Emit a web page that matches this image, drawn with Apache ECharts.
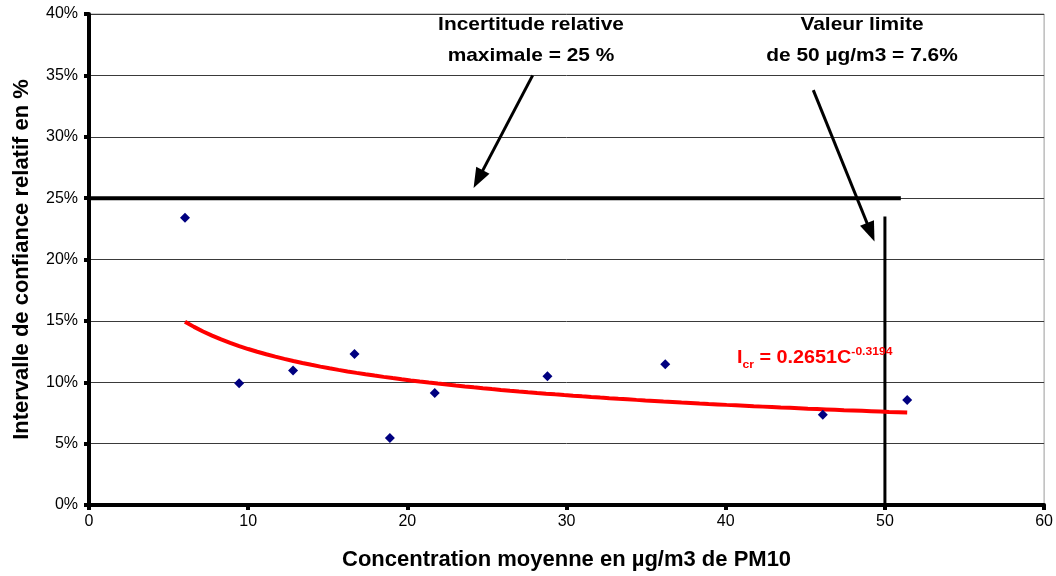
<!DOCTYPE html>
<html>
<head>
<meta charset="utf-8">
<script src="https://cdn.jsdelivr.net/npm/echarts@6/dist/echarts.min.js"></script>
<style>
  html, body { margin: 0; padding: 0; background: #fff; }
  #chart { width: 1056px; height: 576px; }
</style>
</head>
<body>
<div id="chart"></div>
<script>
// Mean PM10 concentration (µg/m3) per site and relative confidence interval (%)
const concentration = [6.03, 9.43, 12.82, 16.68, 18.9, 21.72, 28.8, 36.2, 46.1, 51.4];
const relativeInterval = [23.4, 9.92, 10.95, 12.3, 5.45, 9.13, 10.49, 11.46, 7.35, 8.56];

// Power fit Icr = A * C^B (shown on the chart as a label)
const TREND_A = 0.2651;
const TREND_B = -0.3194;

// Reference levels
const maxUncertainty = 25;        // % limit, horizontal line
const maxUncertaintyEnd = 51;     // µg/m3, end of that line
const limitValue = 50;            // µg/m3, vertical line
const limitValueTop = 23.5;       // %, top of the vertical line

// Arrows: [start, head centre] in data coordinates
const arrowUncertainty = [[27.87, 35.0], [24.45, 26.55]];
const arrowLimit = [[45.5, 33.8], [49.11, 22.22]];

const xTicks = [0, 10, 20, 30, 40, 50, 60];
const yTicks = [0, 5, 10, 15, 20, 25, 30, 35, 40];

const FONT = 'Liberation Sans, Arial, sans-serif';

// sample the fitted curve over the observed concentration range
const cMin = Math.min(...concentration);
const cMax = Math.max(...concentration);
const trend = [];
for (let i = 0; i <= 80; i++) {
  const c = cMin + (cMax - cMin) * i / 80;
  trend.push([c, 100 * TREND_A * Math.pow(c, TREND_B)]);
}

const chart = echarts.init(document.getElementById('chart'), null, { renderer: 'canvas' });

chart.setOption({
  animation: false,
  backgroundColor: '#ffffff',
  textStyle: { fontFamily: FONT },
  grid: {
    left: 89, right: 11, top: 14, bottom: 70,
    show: true, borderColor: '#9a9a9a', borderWidth: 1
  },
  xAxis: {
    type: 'value',
    min: xTicks[0], max: xTicks[xTicks.length - 1], interval: 10,
    name: 'Concentration moyenne en µg/m3 de PM10',
    nameLocation: 'middle',
    nameGap: 44,
    nameTextStyle: { fontSize: 22, fontWeight: 'bold', color: '#000', fontFamily: FONT },
    axisLine: { lineStyle: { color: '#000', width: 4 } },
    axisTick: { show: true, length: 5, lineStyle: { color: '#000', width: 4 } },
    axisLabel: { fontSize: 16, color: '#000', margin: 9, fontFamily: FONT },
    splitLine: { show: false }
  },
  yAxis: {
    type: 'value',
    min: yTicks[0], max: yTicks[yTicks.length - 1], interval: 5,
    name: 'Intervalle de confiance relatif en %',
    nameLocation: 'middle',
    nameGap: 56,
    nameTextStyle: { fontSize: 22, fontWeight: 'bold', color: '#000', fontFamily: FONT },
    axisLine: { show: true, lineStyle: { color: '#000', width: 4 } },
    axisTick: { show: true, length: 5, lineStyle: { color: '#000', width: 4 } },
    axisLabel: { fontSize: 16, color: '#000', margin: 11, formatter: '{value}%', fontFamily: FONT },
    splitLine: { show: true, lineStyle: { color: '#3a3a3a', width: 1 } }
  },
  series: [
    {
      name: 'Limite 25 %',
      type: 'line',
      data: [[0, maxUncertainty], [maxUncertaintyEnd, maxUncertainty]],
      symbol: 'none',
      lineStyle: { color: '#000', width: 4 },
      z: 3
    },
    {
      name: 'Valeur limite',
      type: 'line',
      data: [[limitValue, 0], [limitValue, limitValueTop]],
      symbol: 'none',
      lineStyle: { color: '#000', width: 3 },
      z: 3
    },
    {
      name: 'Ajustement',
      type: 'line',
      data: trend,
      symbol: 'none',
      smooth: false,
      lineStyle: { color: '#ff0000', width: 4 },
      z: 4
    },
    {
      name: 'Sites',
      type: 'scatter',
      data: concentration.map((c, i) => [c, relativeInterval[i]]),
      symbol: 'diamond',
      symbolSize: 10,
      itemStyle: { color: '#000080', opacity: 1 },
      z: 5
    },
    {
      name: 'Flèches',
      type: 'line',
      data: [],
      markLine: {
        silent: true,
        symbol: ['none', 'triangle'],
        symbolSize: [15, 20],
        label: { show: false },
        lineStyle: { color: '#000', width: 3, type: 'solid', opacity: 1 },
        itemStyle: { color: '#000' },
        data: [
          [{ coord: arrowUncertainty[0] }, { coord: arrowUncertainty[1] }],
          [{ coord: arrowLimit[0] }, { coord: arrowLimit[1] }]
        ]
      },
      z: 6
    }
  ],
  graphic: [
    {
      type: 'text',
      x: 531, y: 9,
      scaleX: 1.1,
      style: {
        text: 'Incertitude relative\nmaximale = 25 %',
        align: 'center',
        verticalAlign: 'top',
        font: 'bold 19px ' + FONT,
        lineHeight: 31,
        fill: '#000'
      }
    },
    {
      type: 'text',
      x: 862, y: 9,
      scaleX: 1.1,
      style: {
        text: 'Valeur limite\nde 50 µg/m3 = 7.6%',
        align: 'center',
        verticalAlign: 'top',
        font: 'bold 19px ' + FONT,
        lineHeight: 31,
        fill: '#000'
      }
    },
    {
      type: 'text',
      x: 737, y: 346,
      scaleX: 1.1,
      style: {
        text: '{m|I}{sub|cr}{m| = 0.2651C}{sup|-0.3194}',
        rich: {
          m: { font: 'bold 18px ' + FONT, fill: '#ff0000', lineHeight: 24, verticalAlign: 'middle' },
          sub: { font: 'bold 11px ' + FONT, fill: '#ff0000', lineHeight: 12, verticalAlign: 'bottom' },
          sup: { font: 'bold 11px ' + FONT, fill: '#ff0000', lineHeight: 12, verticalAlign: 'top' }
        }
      },
      z: 10
    }
  ]
});
</script>
</body>
</html>
